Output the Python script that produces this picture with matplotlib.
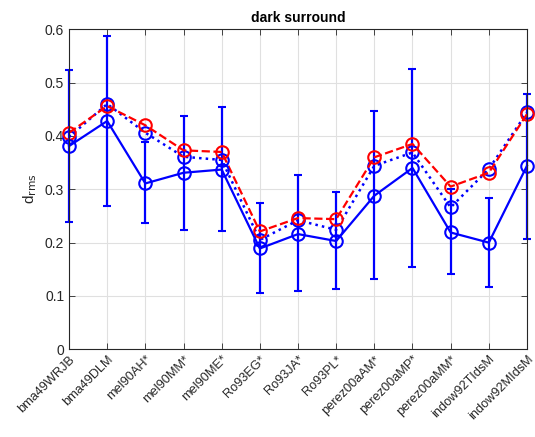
import numpy as np
import matplotlib.pyplot as plt
import matplotlib.transforms as mtransforms

plt.rcParams['font.family'] = ['Liberation Sans', 'DejaVu Sans']

# observers / conditions
labels = ['bma49WRJB', 'bma49DLM', 'mel90AH*', 'mel90MM*', 'mel90ME*',
          'Ro93EG*', 'Ro93JA*', 'Ro93PL*', 'perez00aAM*', 'perez00aMP*',
          'perez00aMM*', 'indow92TIdsM', 'indow92MIdsM']

# mean d_rms with lower/upper error limits
mean_rms = [0.381, 0.428, 0.311, 0.331, 0.337, 0.189, 0.216, 0.203,
            0.288, 0.340, 0.219, 0.200, 0.344]
err_low = [0.239, 0.269, 0.236, 0.224, 0.222, 0.105, 0.109, 0.113,
           0.132, 0.154, 0.141, 0.117, 0.207]
err_high = [0.524, 0.588, 0.388, 0.438, 0.454, 0.274, 0.326, 0.295,
            0.446, 0.526, 0.300, 0.283, 0.479]

# second model (blue dotted) and third model (red dashed)
model_b = [0.398, 0.460, 0.406, 0.361, 0.355, 0.205, 0.242, 0.224,
           0.344, 0.369, 0.266, 0.338, 0.444]
model_r = [0.406, 0.456, 0.420, 0.373, 0.370, 0.221, 0.246, 0.244,
           0.360, 0.385, 0.305, 0.331, 0.441]

x = np.arange(1, len(labels) + 1)
mean_rms = np.array(mean_rms)
yerr = np.vstack([mean_rms - np.array(err_low), np.array(err_high) - mean_rms])

fig = plt.figure(figsize=(5.35, 4.37), dpi=100)
ax = fig.add_axes([0.129, 0.2007, 0.856, 0.7323])

eb = ax.errorbar(x, mean_rms, yerr=yerr, color='#0000ff', lw=1.6, marker='o',
                 ms=9, mfc='none', mew=1.5, capsize=3, capthick=1.6,
                 elinewidth=1.6)
for art in eb.lines[0:1] + eb.lines[1] + eb.lines[2]:
    art.set_clip_on(False)
ax.plot(x, model_b, ':', color='#0000ff', lw=1.8, marker='o', ms=9,
        mfc='none', mew=1.5, clip_on=False)
ax.plot(x, model_r, '--', color='#ff0000', lw=1.6, marker='o', ms=9,
        mfc='none', mew=1.5, clip_on=False)

ax.set_xlim(1, 13)
ax.set_ylim(0, 0.6)
ax.set_xticks(x)
ax.set_xticklabels(labels, rotation=45, ha='right', va='top',
                   rotation_mode='anchor', fontsize=9.2)
# nudge the slanted labels a little left of their ticks
shift = mtransforms.ScaledTranslation(-4 / 72, 0, fig.dpi_scale_trans)
for lab in ax.get_xticklabels():
    lab.set_transform(lab.get_transform() + shift)
ax.set_yticks(np.arange(0, 0.61, 0.1))
ax.set_yticklabels(['0', '0.1', '0.2', '0.3', '0.4', '0.5', '0.6'])
ax.tick_params(direction='in', top=True, right=True, labelsize=10,
               length=4, width=0.6, colors='#262626')
ax.tick_params(axis='x', pad=3, labelsize=9.2)
ax.grid(True, color='#e0e0e0', lw=0.8)
ax.set_axisbelow(True)
for s in ax.spines.values():
    s.set_color('#262626')
    s.set_linewidth(0.8)

ax.set_ylabel('d$_{\\rm rms}$', fontsize=11, color='#262626')
ax.set_title('dark surround', fontsize=10, fontweight='bold', pad=5)

fig.savefig('out.png', dpi=100)
